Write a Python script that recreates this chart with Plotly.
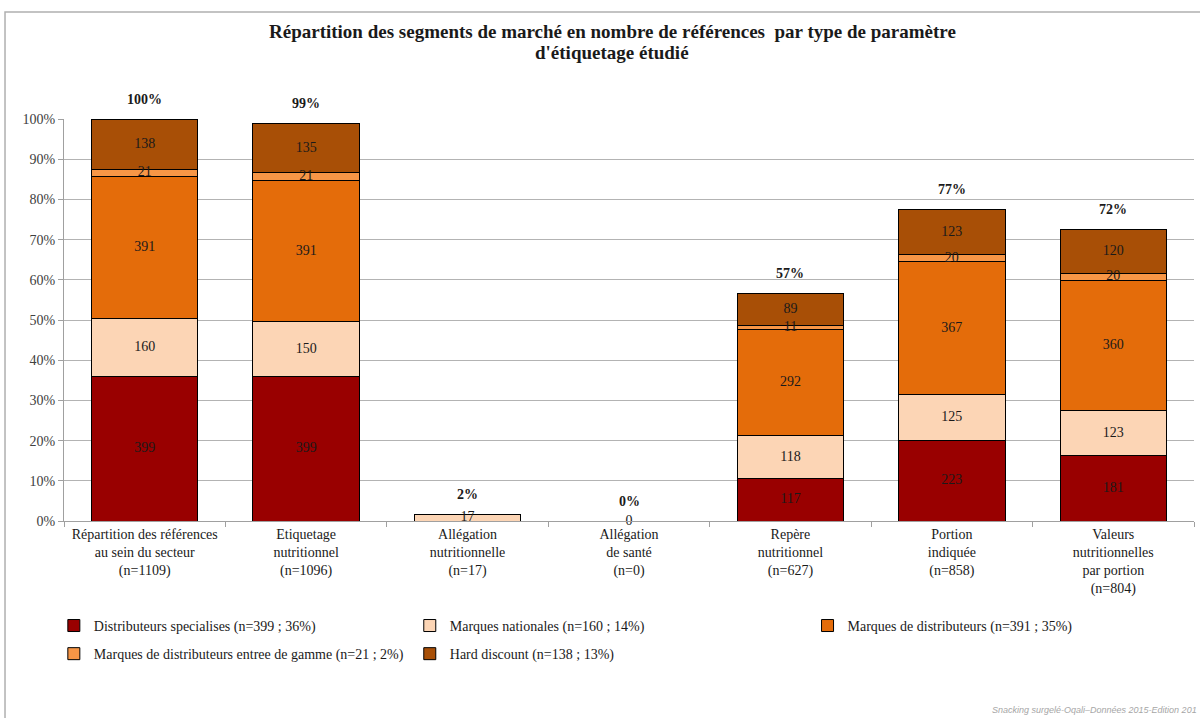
import plotly.graph_objects as go

categories = [
    "Répartition des références<br>au sein du secteur<br>(n=1109)",
    "Etiquetage<br>nutritionnel<br>(n=1096)",
    "Allégation<br>nutritionnelle<br>(n=17)",
    "Allégation<br>de santé<br>(n=0)",
    "Repère<br>nutritionnel<br>(n=627)",
    "Portion<br>indiquée<br>(n=858)",
    "Valeurs<br>nutritionnelles<br>par portion<br>(n=804)",
]
total_refs = 1109

series_names = [
    "Distributeurs specialises (n=399 ; 36%)",
    "Marques nationales (n=160 ; 14%)",
    "Marques de distributeurs (n=391 ; 35%)",
    "Marques de distributeurs entree de gamme (n=21 ; 2%)",
    "Hard discount (n=138 ; 13%)",
]
dist_specialises = [399, 399, None, None, 117, 223, 181]
marques_nationales = [160, 150, 17, 0, 118, 125, 123]
marques_distributeurs = [391, 391, None, None, 292, 367, 360]
mdd_entree_gamme = [21, 21, None, None, 11, 20, 20]
hard_discount = [138, 135, None, None, 89, 123, 120]

title_lines = [
    "Répartition des segments de marché en nombre de références  par type de paramètre",
    "d'étiquetage étudié",
]

series_values = [dist_specialises, marques_nationales, marques_distributeurs,
                 mdd_entree_gamme, hard_discount]
colors = ["#990000", "#FCD5B5", "#E46C0A", "#F79646", "#A84F06"]

SERIF = "Liberation Serif"

fig = go.Figure()

legend_ids = ["legend", "legend2", "legend3", "legend4", "legend5"]
cum = [0.0] * len(categories)
mid_x, mid_y, mid_t = [], [], []
for name, vals, col, lg in zip(series_names, series_values, colors, legend_ids):
    ys = [(v or 0) / total_refs for v in vals]
    fig.add_trace(go.Bar(
        x=categories, y=ys, name=name,
        marker=dict(color=col, line=dict(color="#000000", width=1)),
        legend=lg, hoverinfo="skip",
    ))
    for i, v in enumerate(vals):
        if v is not None:
            mid_x.append(categories[i])
            mid_y.append(cum[i] + (v / total_refs) / 2)
            mid_t.append(str(v))
    cum = [c + y for c, y in zip(cum, ys)]

# segment value labels (centered like Excel data labels)
fig.add_trace(go.Scatter(
    x=mid_x, y=mid_y, text=mid_t, mode="text", showlegend=False,
    textposition="middle center", hoverinfo="skip", cliponaxis=False,
    textfont=dict(family=SERIF, size=14, color="#1a1a1a"),
))

# totals above the bars
annotations = []
for i, c in enumerate(categories):
    annotations.append(dict(
        x=c, y=cum[i], xref="x", yref="y", text="<b>%d%%</b>" % round(cum[i] * 100),
        showarrow=False, yshift=20, font=dict(family=SERIF, size=14, color="#1a1a1a"),
    ))

# title (two centred lines)
for line, ypx in zip(title_lines, [32, 53]):
    annotations.append(dict(
        x=(612 - 64) / 1130, xref="paper", y=(521 - ypx) / 402, yref="paper",
        xanchor="center", yanchor="middle", showarrow=False,
        text="<b>%s</b>" % line,
        font=dict(family=SERIF, size=19, color="#1a1a1a"),
    ))

annotations.append(dict(
    x=1.0044, y=-0.470, xref="paper", yref="paper", xanchor="right", yanchor="middle",
    text="<i>Snacking surgelé-Oqali–Données 2015-Edition 201</i>", showarrow=False,
    font=dict(family="Liberation Sans", size=9, color="#a6a6a6"),
))

leg_common = dict(orientation="v", yanchor="middle", xanchor="left",
                  font=dict(family=SERIF, size=14, color="#1a1a1a"),
                  bgcolor="rgba(0,0,0,0)")
row1, row2 = -0.261, -0.331
col1, col2, col3 = -0.009, 0.306, 0.658

fig.update_layout(
    width=1200, height=718,
    paper_bgcolor="white", plot_bgcolor="white",
    barmode="stack", bargap=0.34,
    margin=dict(l=64, r=6, t=119, b=197),
    yaxis=dict(
        range=[0, 1], dtick=0.1, tickformat=".0%",
        showgrid=True, gridcolor="#b3b3b3", gridwidth=1.3,
        showline=True, linecolor="#a0a0a0", linewidth=1,
        ticks="outside", ticklen=5, tickcolor="#a0a0a0",
        tickfont=dict(family=SERIF, size=14, color="#404040"),
        zeroline=False,
    ),
    xaxis=dict(
        showline=True, linecolor="#a0a0a0", linewidth=1,
        ticks="outside", tickson="boundaries", ticklen=5, tickcolor="#a0a0a0",
        tickfont=dict(family=SERIF, size=14, color="#1a1a1a"),
    ),
    legend=dict(x=col1, y=row1, **leg_common),
    legend2=dict(x=col2, y=row1, **leg_common),
    legend3=dict(x=col3, y=row1, **leg_common),
    legend4=dict(x=col1, y=row2, **leg_common),
    legend5=dict(x=col2, y=row2, **leg_common),
    annotations=annotations,
    shapes=[dict(type="rect", xref="paper", yref="paper",
                 x0=-0.0522, x1=1.03, y0=-0.6, y1=(521 - 12) / 402,
                 line=dict(color="#b0b0b0", width=1.5), fillcolor="rgba(0,0,0,0)")],
)

fig.write_html("out.html", config={"displayModeBar": False},
               post_script="document.body.style.margin='0';")
